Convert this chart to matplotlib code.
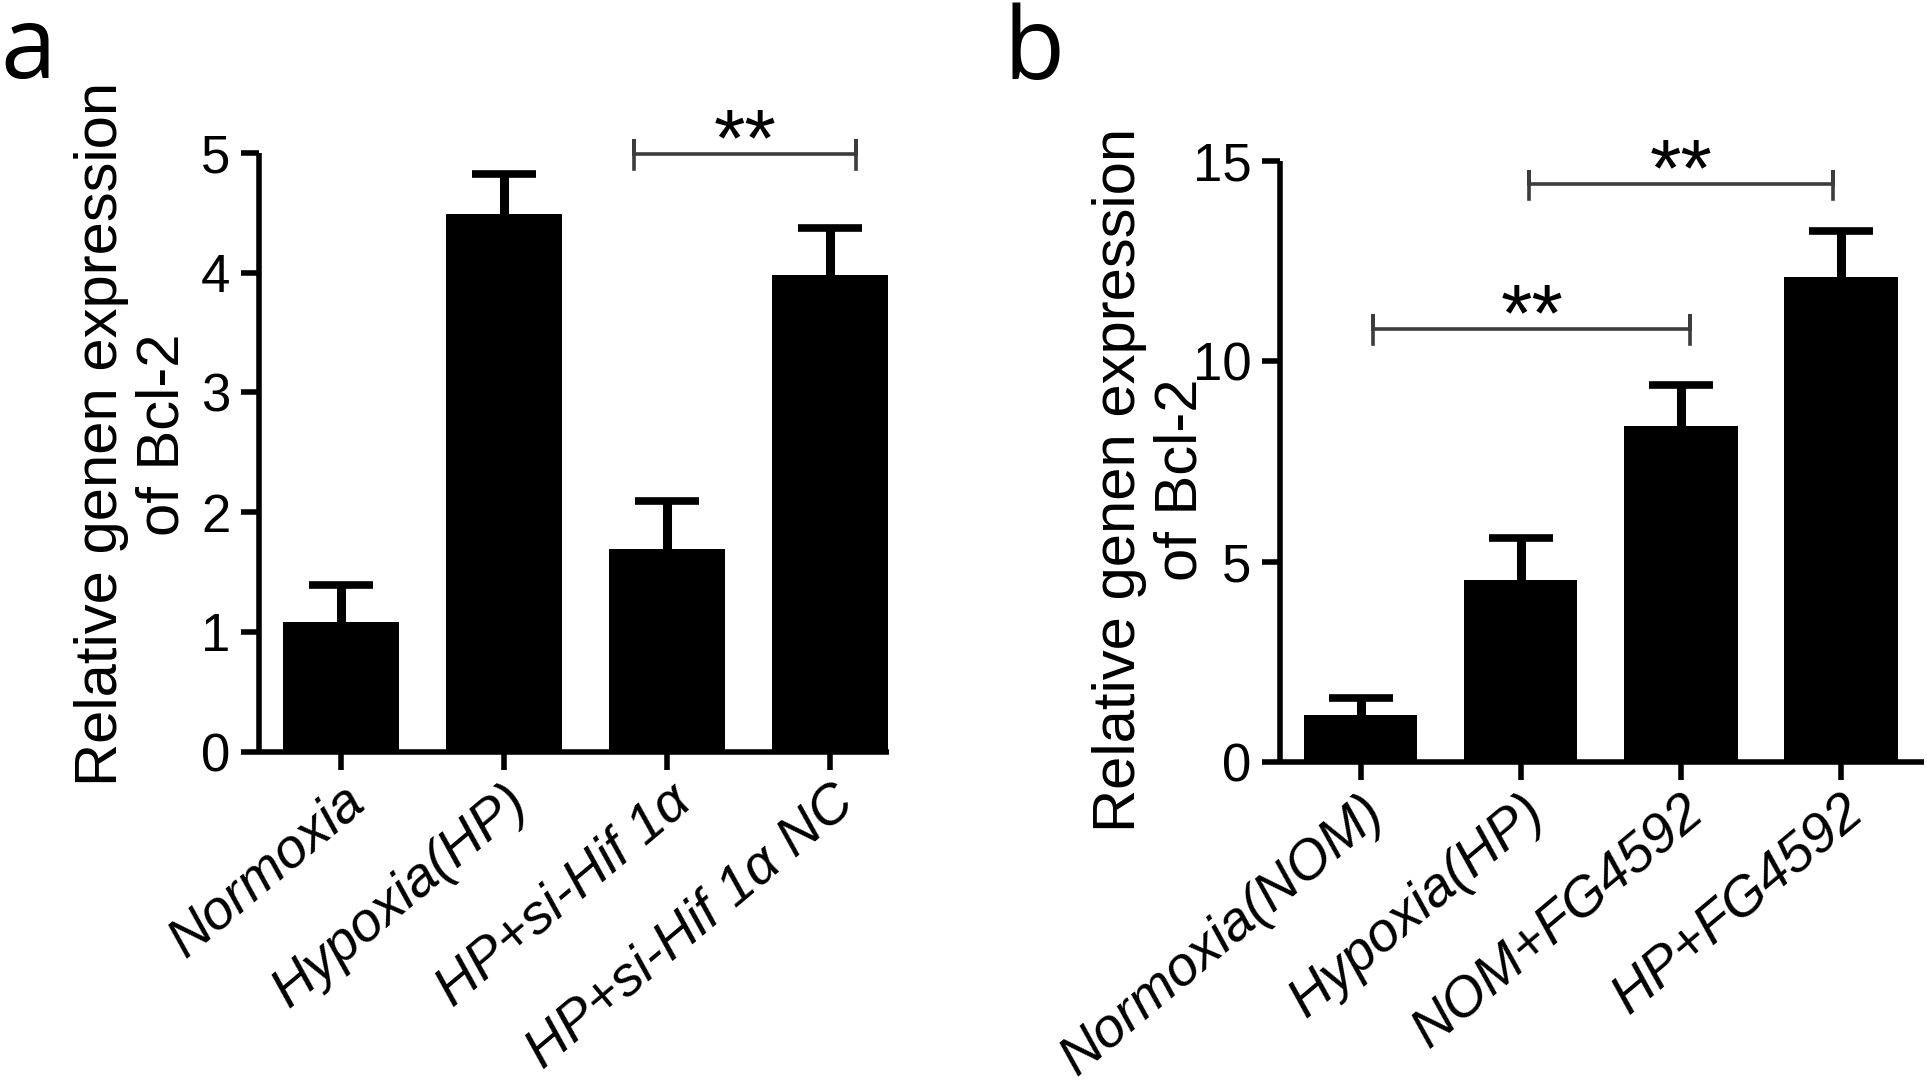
import numpy as np
import matplotlib
matplotlib.use('Agg')
import matplotlib.pyplot as plt
import matplotlib.transforms as mtransforms

# panel a data
groups_a = ['Normoxia', 'Hypoxia(HP)', 'HP+si-Hif 1α', 'HP+si-Hif 1α NC']
means_a = [1.08, 4.49, 1.69, 3.98]
errs_a = [0.31, 0.33, 0.40, 0.39]

# panel b data
groups_b = ['Normoxia(NOM)', 'Hypoxia(HP)', 'NOM+FG4592', 'HP+FG4592']
means_b = [1.19, 4.56, 8.40, 12.10]
errs_b = [0.41, 1.03, 1.00, 1.15]

ylabel = 'Relative genen expression\nof Bcl-2'

plt.rcParams['font.family'] = ['Liberation Sans', 'DejaVu Sans']

fig = plt.figure(figsize=(19.27, 10.82), dpi=100)
ax_a = fig.add_axes([0.1346, 0.3052, 0.3267, 0.5535])
ax_b = fig.add_axes([0.6645, 0.2953, 0.3340, 0.5561])


def draw_panel(ax, groups, means, errs, ymax, ystep, xmax, lab_x, lab_y):
    x = np.arange(len(groups))
    means = np.array(means)
    tops = means + np.array(errs)
    ax.bar(x, means, width=0.71, color='black', zorder=2)
    # upper error bar only, with cap
    ax.vlines(x, means, tops, color='black', lw=6.5, zorder=3)
    ax.plot(x, tops, ls='none', marker='_', ms=46, mew=5.5, color='black',
            zorder=3, clip_on=False)
    ax.set_xlim(-0.5, xmax)
    ax.set_ylim(0, ymax)
    ax.set_yticks(np.arange(0, ymax + 0.1, ystep))
    ax.set_xticks(x)
    ax.set_xticklabels(groups, rotation=40, ha='right', va='top',
                       rotation_mode='anchor', fontstyle='italic', fontsize=40)
    shift = mtransforms.ScaledTranslation(13 / 72, 4 / 72, fig.dpi_scale_trans)
    for lab in ax.get_xticklabels():
        lab.set_transform(lab.get_transform() + shift)
    for s in ['top', 'right']:
        ax.spines[s].set_visible(False)
    for s in ['left', 'bottom']:
        ax.spines[s].set_linewidth(4)
        ax.spines[s].set_capstyle('butt')
    ax.tick_params(axis='y', length=13, width=4, labelsize=38, pad=8)
    ax.tick_params(axis='x', length=13, width=4, pad=4)
    ax.set_ylabel(ylabel, fontsize=43, linespacing=1.15)
    ax.yaxis.set_label_coords(lab_x, lab_y)


def bracket(ax, x1, x2, y, h):
    ax.plot([x1, x1, x1, x2, x2, x2], [y - h, y + h, y, y, y + h, y - h],
            color='#3c3c3c', lw=2.6, clip_on=False, zorder=4,
            solid_joinstyle='miter')
    ax.annotate('**', xy=((x1 + x2) / 2, y), xytext=(0, -8),
                textcoords='offset points', ha='center', va='baseline',
                fontsize=58, annotation_clip=False)


draw_panel(ax_a, groups_a, means_a, errs_a, 5, 1, 3.36, -0.109, 0.53)
draw_panel(ax_b, groups_b, means_b, errs_b, 15, 5, 3.52, -0.1125, 0.47)

bracket(ax_a, 1.80, 3.16, 4.99, 0.125)
bracket(ax_b, 0.08, 2.06, 10.81, 0.37)
bracket(ax_b, 1.05, 2.95, 14.41, 0.37)

fig.text(0.0, 1 - 78 / 1082, 'a', fontsize=72, family='Open Sans', va='baseline')
fig.text(0.521, 1 - 79 / 1082, 'b', fontsize=72, family='Open Sans', va='baseline')

fig.savefig('out.png', dpi=100)
